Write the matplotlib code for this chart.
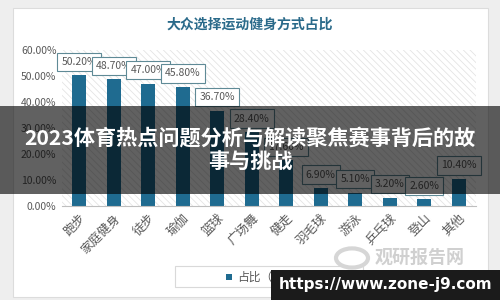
import matplotlib
matplotlib.use("Agg")
import matplotlib.pyplot as plt
from matplotlib.patches import Rectangle, Circle

plt.rcParams['font.family'] = ['Noto Sans CJK SC', 'DejaVu Sans']
plt.rcParams['hatch.linewidth'] = 0.6

title = "大众选择运动健身方式占比"
categories = ['跑步', '家庭健身', '徒步', '瑜伽', '篮球', '广场舞', '健走',
              '羽毛球', '游泳', '乒乓球', '登山', '其他']
values = [50.2, 48.7, 47.0, 45.8, 36.7, 28.4, 17.6, 6.9, 5.1, 3.2, 2.6, 10.4]
yticks = [0, 10, 20, 30, 40, 50, 60]
legend_label = "占比（%）"
banner_text = "2023体育热点问题分析与解读聚焦赛事背后的故\n事与挑战"
url_text = "https://www.zone-j9.com"

W, H = 500, 300
fig = plt.figure(figsize=(5, 3), dpi=100)
fig.patch.set_facecolor('#eeeeee')

def fx(px):
    return px / W

def fy(py):
    return 1 - py / H

# white card
fig.patches.append(Rectangle((fx(13), fy(297)), fx(475), 289 / H,
                             transform=fig.transFigure, facecolor='white',
                             edgecolor='#dcdcdc', lw=0.8, zorder=-5))

fig.text(0.5, fy(25), title, ha='center', va='center', fontsize=10,
         fontweight='bold', color='#2a6a8a')

ax = fig.add_axes([fx(62), fy(206), fx(476 - 62), (206 - 50) / H])
ax.set_facecolor('none')
ax.add_patch(Rectangle((0, 0), 1, 1, transform=ax.transAxes, facecolor='white',
                       edgecolor='#e4e4e4', hatch='\\\\\\\\\\', lw=0, zorder=0))

x = list(range(len(categories)))
bars = ax.bar(x, values, width=0.42, color='#1f6b90', zorder=2)
ax.set_xlim(-0.5, len(categories) - 0.5)
ax.set_ylim(0, 60)
ax.set_yticks(yticks)
ax.set_yticklabels([f"{t:.2f}%" for t in yticks], fontsize=7.5, color='#595959')
ax.set_xticks(x)
ax.set_xticklabels(categories, rotation=45, ha='right', rotation_mode='anchor',
                   fontsize=9, color='#595959')
ax.tick_params(length=0, pad=4)
ax.tick_params(axis='x', pad=4)
for s in ['left', 'right', 'top']:
    ax.spines[s].set_visible(False)
ax.spines['bottom'].set_color('#bfbfbf')
ax.spines['bottom'].set_zorder(3)

for i, v in enumerate(values):
    ax.text(i, v + 5.2, f"{v:.2f}%", ha='center', va='center', fontsize=7.5,
            color='#595959', zorder=4 + i,
            bbox=dict(boxstyle='square,pad=0.4', facecolor='white',
                      edgecolor='#5f8a96', lw=0.8))

# legend box
fig.patches.append(Rectangle((fx(175), fy(287)), fx(188), 21 / H,
                             transform=fig.transFigure, facecolor='white',
                             edgecolor='#d9d9d9', lw=0.8, zorder=1))
fig.patches.append(Rectangle((fx(226), fy(280)), fx(6), 6 / H,
                             transform=fig.transFigure, facecolor='#1f6b90',
                             lw=0, zorder=2))
fig.text(fx(237), fy(277), legend_label, ha='left', va='center', fontsize=8.5,
         color='#595959', zorder=2)

# watermark
fig.patches.append(Circle((fx(352), fy(258)), 0.032, transform=fig.transFigure,
                          facecolor='none', edgecolor='#d6d6d6', lw=3, zorder=1))
fig.text(fx(420), fy(257), "观研报告网", ha='center', va='center', fontsize=13,
         fontweight='bold', color='#d0d0d0', zorder=1)
fig.text(fx(420), fy(277), "chinabaogao.com", ha='center', va='center', fontsize=8,
         color='#d6d6d6', zorder=1)

# dark banner overlay
fig.patches.append(Rectangle((0, fy(194)), 1, 88 / H, transform=fig.transFigure,
                             facecolor='black', alpha=0.62, lw=0, zorder=10))
fig.text(0.5, fy(150), banner_text, ha='center', va='center', fontsize=15.2,
         fontweight='bold', color='white', linespacing=1.15, zorder=11)

# url box
fig.patches.append(Rectangle((fx(271), 0), fx(229), 30 / H, transform=fig.transFigure,
                             facecolor='#1b1b1b', lw=0, zorder=10))
fig.text(fx(386), fy(285), url_text, ha='center', va='center', fontsize=11,
         fontweight='bold', color='white', zorder=11, family=['DejaVu Sans'])

fig.savefig('out.png', dpi=100, facecolor=fig.get_facecolor())
